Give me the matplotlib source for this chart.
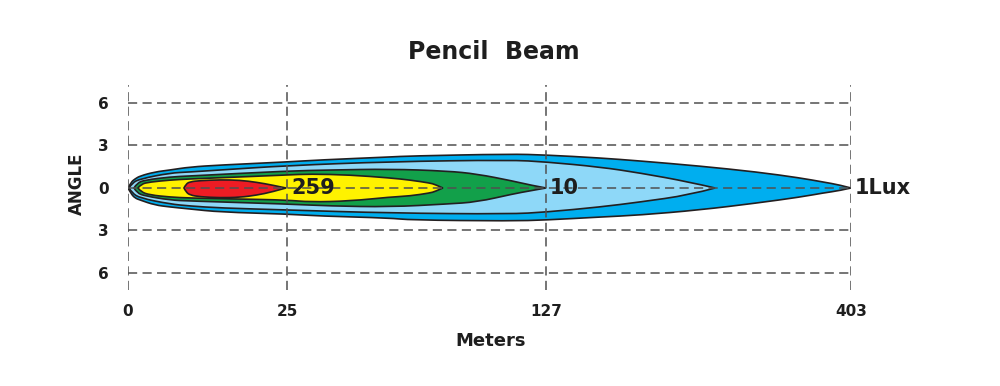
import numpy as np
import matplotlib.pyplot as plt
from matplotlib.path import Path
from matplotlib.patches import PathPatch

plt.rcParams['font.family'] = ['DejaVu Sans']

# axis ticks (meters) and angle ticks
dist_ticks = [0, 25, 127, 403]
angle_ticks = [6, 3, 0, -3, -6]
angle_labels = ['6', '3', '0', '3', '6']

# isolux lobes: distance (m), upper half-angle (deg), lower half-angle (deg)
blue_x = [0, 0.5, 1.1, 1.9, 4.2, 6.6, 9.7, 14.5, 25, 38, 65.6, 73.5, 112.8, 127,
          176, 212, 266, 318, 357, 378, 393, 403]
blue_up = [0, 0.42, 0.64, 0.85, 1.13, 1.27, 1.48, 1.62, 1.84, 1.98, 2.19, 2.26, 2.40,
           2.33, 2.12, 1.91, 1.55, 1.13, 0.71, 0.42, 0.21, 0]
blue_lo = [0, 0.42, 0.71, 0.85, 1.20, 1.34, 1.48, 1.70, 1.84, 1.98, 2.12, 2.26, 2.33,
           2.26, 2.05, 1.91, 1.55, 1.06, 0.64, 0.35, 0.18, 0]

lblue_x = [0.16, 0.63, 1.9, 6.6, 9.7, 14.5, 25, 65.6, 112.8, 127, 176, 212, 257, 280]
lblue_up = [0, 0.35, 0.64, 1.06, 1.13, 1.27, 1.58, 1.86, 1.98, 1.84, 1.48, 1.06, 0.42, 0]
lblue_lo = [0, 0.35, 0.71, 1.13, 1.27, 1.41, 1.55, 1.77, 1.84, 1.70, 1.34, 0.99, 0.49, 0]

green_x = [0.94, 1.41, 2.67, 6.6, 9.75, 25, 41.9, 65.6, 88.0, 99.8, 114.0, 120.7, 127]
green_up = [0, 0.35, 0.56, 0.78, 0.85, 1.20, 1.27, 1.34, 1.20, 0.99, 0.49, 0.21, 0]
green_lo = [0, 0.35, 0.56, 0.85, 0.92, 1.13, 1.27, 1.34, 1.13, 0.99, 0.42, 0.20, 0]

yellow_x = [1.57, 2.04, 3.46, 6.6, 9.75, 17.6, 25, 34.1, 49.8, 65.6, 73.5, 81.3, 83.3, 86.4]
yellow_up = [0, 0.28, 0.42, 0.56, 0.64, 0.78, 0.92, 0.99, 0.92, 0.71, 0.56, 0.35, 0.25, 0]
yellow_lo = [0, 0.28, 0.49, 0.64, 0.71, 0.78, 0.85, 0.99, 0.92, 0.64, 0.56, 0.35, 0.25, 0]

red_x = [8.8, 9.12, 9.75, 11.32, 14.46, 17.61, 20.28, 22.64, 24.84]
red_up = [0, 0.28, 0.44, 0.52, 0.58, 0.55, 0.40, 0.21, 0]
red_lo = [0, 0.28, 0.50, 0.62, 0.69, 0.66, 0.50, 0.28, 0]

lobes = [
    (blue_x, blue_up, blue_lo, '#00AEEF'),
    (lblue_x, lblue_up, lblue_lo, '#8ED8F8'),
    (green_x, green_up, green_lo, '#12A04A'),
    (yellow_x, yellow_up, yellow_lo, '#FFF200'),
    (red_x, red_up, red_lo, '#ED1C24'),
]

# labels at the lobe tips
lux_labels = [(25, '259'), (127, '10'), (403, '1Lux')]

# non-linear distance axis: tick positions spread as in the original drawing
tick_pos = [0, 159, 418, 723]

def fwd(x):
    return np.interp(x, dist_ticks, tick_pos)

def inv(p):
    return np.interp(p, tick_pos, dist_ticks)

def chain(pts):
    # smooth quadratic chain through the read points (passes the end points)
    verts, codes = [], []
    if len(pts) < 3:
        return [pts[-1]], [Path.LINETO]
    for i in range(1, len(pts) - 1):
        if i == len(pts) - 2:
            end = pts[-1]
        else:
            end = ((pts[i][0] + pts[i + 1][0]) / 2, (pts[i][1] + pts[i + 1][1]) / 2)
        verts += [pts[i], end]
        codes += [Path.CURVE3, Path.CURVE3]
    return verts, codes

def lobe_path(xs, up, lo):
    top = list(zip(xs, up))
    bot = list(zip(xs[::-1], [-v for v in lo[::-1]]))
    v1, c1 = chain(top)
    v2, c2 = chain(bot)
    verts = [top[0]] + v1 + v2 + [top[0]]
    codes = [Path.MOVETO] + c1 + c2 + [Path.CLOSEPOLY]
    return Path(verts, codes)

ink = '#1E1E1E'

fig = plt.figure(figsize=(10, 3.86), dpi=100)
ax = fig.add_axes([0.128, 1 - 290 / 386, 0.723, 205 / 386])
ax.set_xscale('function', functions=(fwd, inv))
ax.set_xlim(0, 403)
ax.set_ylim(-7.2, 7.27)

for xs, up, lo, col in lobes:
    ax.add_patch(PathPatch(lobe_path(xs, up, lo), facecolor=col,
                           edgecolor='#231F20', linewidth=1.2, zorder=1))

ax.set_xticks(dist_ticks)
ax.set_xticklabels([str(d) for d in dist_ticks])
ax.set_yticks(angle_ticks)
ax.set_yticklabels(angle_labels)
ax.xaxis.set_minor_locator(plt.NullLocator())
ax.tick_params(axis='x', length=0, pad=10, labelsize=11, labelcolor=ink)
ax.tick_params(axis='y', length=0, pad=14, labelsize=11, labelcolor=ink)
for lab in ax.get_xticklabels() + ax.get_yticklabels():
    lab.set_fontweight('bold')

ax.set_axisbelow(False)
ax.grid(True, color='#505050', linestyle=(0, (6, 3.5)), linewidth=1.1, zorder=2.5)
for s in ax.spines.values():
    s.set_visible(False)

for x, txt in lux_labels:
    ax.annotate(txt, xy=(x, 0), xytext=(3, 0), textcoords='offset points',
                ha='left', va='center', fontsize=15, fontweight='bold',
                color=ink, zorder=4)

fig.text(0.494, 1 - 52 / 386, 'Pencil  Beam', ha='center', va='center',
         fontsize=17, fontweight='bold', color=ink)
fig.text(0.491, 1 - 341 / 386, 'Meters', ha='center', va='center',
         fontsize=13, fontweight='bold', color=ink)
fig.text(0.077, 1 - 184 / 386, 'ANGLE', ha='center', va='center', rotation=90,
         fontsize=12, fontweight='bold', color=ink)

fig.savefig('out.png', dpi=100)
